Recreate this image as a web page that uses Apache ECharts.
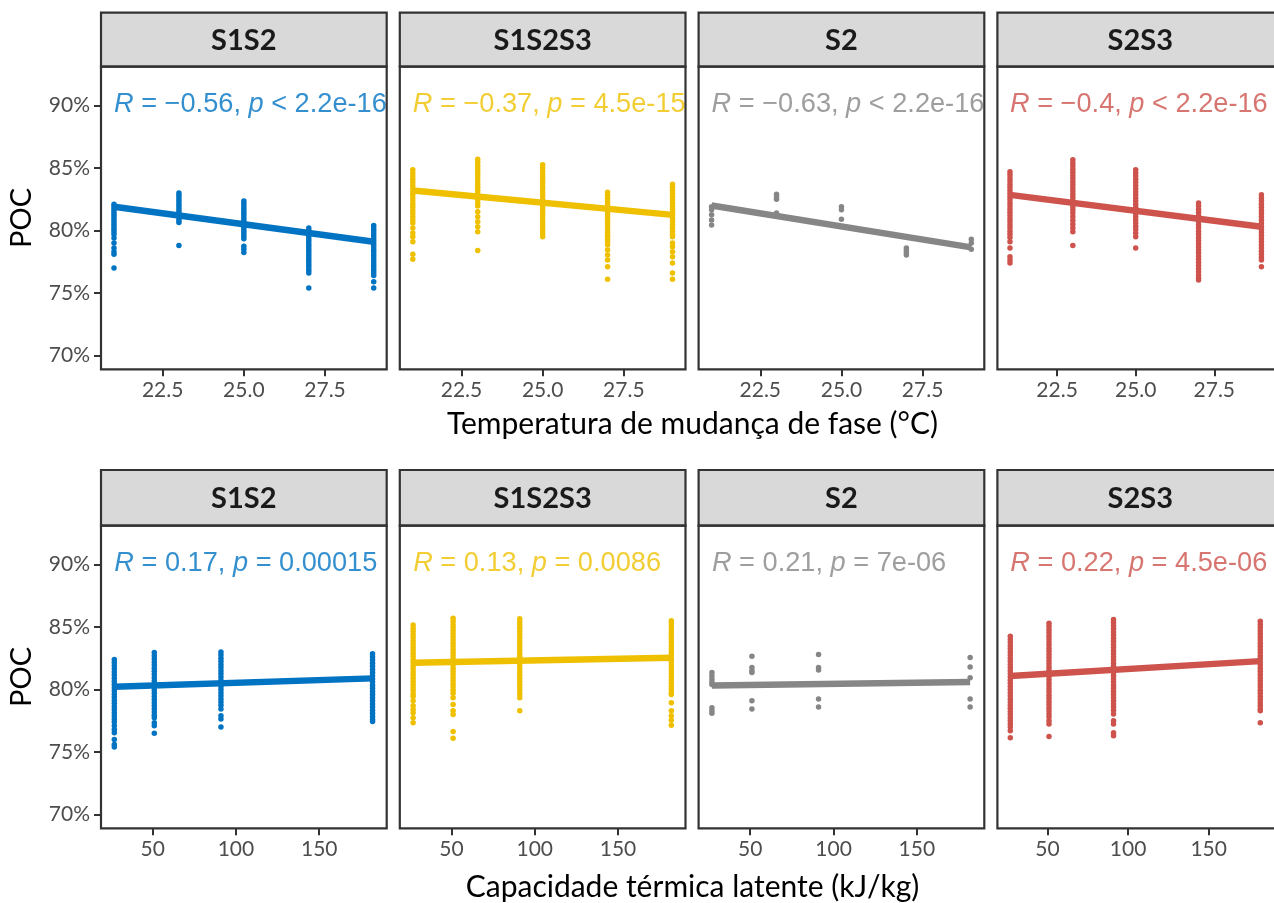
<!DOCTYPE html>
<html>
<head>
<meta charset="utf-8">
<script src="https://cdn.jsdelivr.net/npm/echarts@6/dist/echarts.min.js"></script>
<style>
  html, body { margin: 0; padding: 0; background: #ffffff; }
  #chart { width: 1274px; height: 903px; }
</style>
</head>
<body>
<div id="chart"></div>
<script>
// ---- facet groups and colours ----
const groups = ['S1S2', 'S1S2S3', 'S2', 'S2S3'];
const groupColors = ['#0073C2', '#EFC000', '#868686', '#CD534C'];

// ---- top row: POC (%) vs phase-change temperature (°C) ----
const tempLevels = [21, 23, 25, 27, 29];
const tempTicks = [22.5, 25, 27.5];
const temp_S1S2 = [
  [82.1,81.9,81.7,81.5,81.3,81.1,80.9,80.7,80.5,80.3,80.1,79.9,79.7,79.4,79.0,78.6,78.3,78.1,77.0],
  [83.0,82.8,82.6,82.4,82.2,82.0,81.8,81.6,81.4,81.2,81.0,80.8,80.65,78.8],
  [82.35,82.15,81.95,81.75,81.55,81.35,81.15,80.95,80.75,80.55,80.35,80.15,79.95,79.75,79.55,79.35,78.75,78.5,78.25],
  [80.2,80.0,79.8,79.6,79.4,79.2,79.0,78.8,78.6,78.4,78.2,78.0,77.8,77.6,77.4,77.2,77.0,76.8,76.6,75.4],
  [80.4,80.2,80.0,79.8,79.6,79.4,79.2,79.0,78.8,78.6,78.4,78.2,78.0,77.8,77.6,77.4,77.2,77.0,76.8,76.6,76.4,75.9,75.4]
];
const temp_S1S2S3 = [
  [84.85,84.6,84.35,84.1,83.85,83.6,83.35,83.1,82.85,82.6,82.35,82.1,81.85,81.6,81.35,81.1,80.85,80.6,80.2,79.8,79.5,79.1,78.1,77.7],
  [85.7,85.45,85.2,84.95,84.7,84.45,84.2,83.95,83.7,83.45,83.2,82.95,82.7,82.45,82.2,81.95,81.5,81.1,80.7,80.3,79.9,78.4],
  [85.25,85.0,84.75,84.5,84.25,84.0,83.75,83.5,83.25,83.0,82.75,82.5,82.25,82.0,81.75,81.5,81.25,81.0,80.75,80.5,80.25,80.0,79.75,79.5],
  [83.05,82.8,82.55,82.3,82.05,81.8,81.55,81.3,81.05,80.8,80.55,80.3,80.05,79.8,79.55,79.3,79.1,78.85,78.45,78.05,77.65,77.1,76.1],
  [83.7,83.45,83.2,82.95,82.7,82.45,82.2,81.95,81.7,81.45,81.2,80.95,80.7,80.45,80.2,79.95,79.7,79.5,79.0,78.7,78.3,77.9,77.4,76.6,76.1]
];
const temp_S2 = [
  [81.9,81.65,81.25,80.85,80.45],
  [82.9,82.7,82.5,81.4],
  [81.9,81.65,80.9],
  [78.6,78.4,78.2,78.05],
  [79.3,79.0,78.5]
];
const temp_S2S3 = [
  [84.7,84.45,84.2,83.95,83.7,83.45,83.2,82.95,82.7,82.45,82.2,81.95,81.7,81.45,81.2,80.95,80.7,80.45,80.2,79.95,79.7,79.45,79.1,78.6,77.9,77.65,77.4],
  [85.65,85.4,85.15,84.9,84.65,84.4,84.15,83.9,83.65,83.4,83.15,82.9,82.65,82.4,82.15,81.9,81.65,81.4,81.1,80.8,80.5,80.2,79.9,78.8],
  [84.85,84.6,84.35,84.1,83.85,83.6,83.35,83.1,82.85,82.6,82.35,82.1,81.85,81.6,81.35,81.1,80.85,80.6,80.35,80.1,79.8,79.5,78.6],
  [82.2,81.95,81.7,81.45,81.2,80.95,80.7,80.45,80.2,79.95,79.7,79.45,79.2,78.95,78.7,78.45,78.2,77.95,77.7,77.45,77.2,76.95,76.7,76.45,76.2,76.05],
  [82.85,82.6,82.35,82.1,81.85,81.6,81.35,81.1,80.85,80.6,80.35,80.1,79.85,79.6,79.35,79.1,78.85,78.6,78.35,78.1,77.85,77.65,77.1]
];
// linear fit at the lowest and highest temperature, per group
const tempFitStart = [81.9, 83.2, 82.0, 82.85];
const tempFitEnd = [79.1, 81.25, 78.65, 80.3];
const tempR = ['−0.56', '−0.37', '−0.63', '−0.4'];
const tempP = ['< 2.2e-16', '= 4.5e-15', '< 2.2e-16', '< 2.2e-16'];

// ---- bottom row: POC (%) vs latent heat capacity (kJ/kg) ----
const heatLevels = [27, 51, 91, 182];
const heatTicks = [50, 100, 150];
const heat_S1S2 = [
  [82.4,82.15,81.9,81.65,81.4,81.15,80.9,80.65,80.4,80.15,79.9,79.65,79.4,79.15,78.9,78.65,78.4,78.15,77.9,77.65,77.4,77.1,76.8,76.55,76.0,75.6,75.4],
  [82.95,82.7,82.45,82.2,81.95,81.7,81.45,81.2,80.95,80.7,80.45,80.2,79.95,79.7,79.45,79.2,78.95,78.7,78.45,78.2,77.95,77.75,77.35,77.1,76.5],
  [83.0,82.75,82.5,82.25,82.0,81.75,81.5,81.25,81.0,80.75,80.5,80.25,80.0,79.75,79.5,79.25,79.0,78.75,78.45,77.9,77.65,77.0],
  [82.85,82.6,82.35,82.1,81.85,81.6,81.35,81.1,80.85,80.6,80.35,80.1,79.85,79.6,79.35,79.1,78.85,78.6,78.35,78.1,77.85,77.6,77.45]
];
const heat_S1S2S3 = [
  [85.15,84.9,84.65,84.4,84.15,83.9,83.65,83.4,83.15,82.9,82.65,82.4,82.15,81.9,81.65,81.4,81.15,80.9,80.65,80.4,80.15,79.9,79.65,79.45,79.1,78.7,78.4,78.15,77.75,77.35],
  [85.7,85.45,85.2,84.95,84.7,84.45,84.2,83.95,83.7,83.45,83.2,82.95,82.7,82.45,82.2,81.95,81.7,81.45,81.2,80.95,80.7,80.45,80.2,79.95,79.7,79.35,78.8,78.3,78.0,76.65,76.1],
  [85.65,85.4,85.15,84.9,84.65,84.4,84.15,83.9,83.65,83.4,83.15,82.9,82.65,82.4,82.15,81.9,81.65,81.4,81.15,80.9,80.65,80.4,80.15,79.9,79.65,79.35,78.3],
  [85.5,85.25,85.0,84.75,84.5,84.25,84.0,83.75,83.5,83.25,83.0,82.75,82.5,82.25,82.0,81.75,81.5,81.25,81.0,80.75,80.5,80.25,80.0,79.75,79.6,78.95,78.3,77.9,77.55,77.15]
];
const heat_S2 = [
  [81.35,81.1,80.85,80.6,80.4,78.55,78.3,78.1],
  [82.65,81.75,81.5,81.35,79.1,78.45],
  [82.8,81.75,81.55,79.25,78.6],
  [82.55,81.8,80.95,79.25,78.6]
];
const heat_S2S3 = [
  [84.25,84.0,83.75,83.5,83.25,83.0,82.75,82.5,82.25,82.0,81.75,81.5,81.25,81.0,80.75,80.5,80.25,80.0,79.75,79.5,79.25,79.0,78.75,78.5,78.25,78.0,77.75,77.5,77.25,77.0,76.7,76.15],
  [85.3,85.05,84.8,84.55,84.3,84.05,83.8,83.55,83.3,83.05,82.8,82.55,82.3,82.05,81.8,81.55,81.3,81.05,80.8,80.55,80.3,80.05,79.8,79.55,79.3,79.05,78.8,78.55,78.3,78.05,77.8,77.5,77.25,76.25],
  [85.6,85.35,85.1,84.85,84.6,84.35,84.1,83.85,83.6,83.35,83.1,82.85,82.6,82.35,82.1,81.85,81.6,81.35,81.1,80.85,80.6,80.35,80.1,79.85,79.6,79.35,79.1,78.85,78.6,78.35,78.05,77.5,77.25,76.55,76.3],
  [85.45,85.2,84.95,84.7,84.45,84.2,83.95,83.7,83.45,83.2,82.95,82.7,82.45,82.2,81.95,81.7,81.45,81.2,80.95,80.7,80.45,80.2,79.95,79.7,79.45,79.2,78.95,78.7,78.45,78.3,77.35]
];
const heatFitStart = [80.22, 82.14, 80.33, 81.08];
const heatFitEnd = [80.89, 82.53, 80.6, 82.27];
const heatR = ['0.17', '0.13', '0.21', '0.22'];
const heatP = ['= 0.00015', '= 0.0086', '= 7e-06', '= 4.5e-06'];

const yTicks = [70, 75, 80, 85, 90];
const labelY = 90;

// ---- layout ----
const PANEL_L = 101, PANEL_STEP = 298.8, PANEL_W = 285.7;
const rows = [
  { stripTop: 12.7, top: 66.7, bottom: 369.3, xMin: 20.6, xMax: 29.4, levels: tempLevels, ticks: tempTicks,
    cols: [temp_S1S2, temp_S1S2S3, temp_S2, temp_S2S3], fitA: tempFitStart, fitB: tempFitEnd, R: tempR, P: tempP,
    fmt: v => v.toFixed(1), title: 'Temperatura de mudança de fase (°C)', titleY: 424 },
  { stripTop: 470, top: 525.7, bottom: 828.3, xMin: 19.0, xMax: 190.5, levels: heatLevels, ticks: heatTicks,
    cols: [heat_S1S2, heat_S1S2S3, heat_S2, heat_S2S3], fitA: heatFitStart, fitB: heatFitEnd, R: heatR, P: heatP,
    fmt: v => String(v), title: 'Capacidade térmica latente (kJ/kg)', titleY: 887 }
];

const UI_FONT = 'Lato, "Open Sans", sans-serif';
const CORR_FONT = '"Liberation Sans", Arial, sans-serif';
const grid = [], xAxis = [], yAxis = [], series = [], graphics = [];

rows.forEach((row, r) => {
  groups.forEach((g, c) => {
    const idx = r * 4 + c;
    const left = PANEL_L + c * PANEL_STEP;
    const h = row.bottom - row.top;
    grid.push({ left: left, top: row.top, width: PANEL_W, height: h, containLabel: false });
    xAxis.push({
      type: 'value', gridIndex: idx, min: row.xMin, max: row.xMax,
      axisLine: { show: false },
      splitLine: { show: false },
      axisTick: { show: true, length: 7, lineStyle: { color: '#333333', width: 2 }, customValues: row.ticks },
      axisLabel: { show: true, customValues: row.ticks, formatter: row.fmt, color: '#4D4D4D',
        fontFamily: UI_FONT, fontSize: 21, margin: 10 }
    });
    yAxis.push({
      type: 'value', gridIndex: idx, min: 68.9, max: 93.1,
      axisLine: { show: false },
      splitLine: { show: false },
      axisTick: { show: c === 0, length: 7, lineStyle: { color: '#333333', width: 2 }, customValues: yTicks },
      axisLabel: { show: c === 0, customValues: yTicks, formatter: v => v + '%', color: '#4D4D4D',
        fontFamily: UI_FONT, fontSize: 21, margin: 11 }
    });

    // points
    const pts = [];
    row.levels.forEach((x, k) => { row.cols[c][k].forEach(y => pts.push([x, y])); });
    series.push({
      type: 'scatter', xAxisIndex: idx, yAxisIndex: idx, data: pts,
      symbol: 'circle', symbolSize: 5.5, itemStyle: { color: groupColors[c], opacity: 1 },
      silent: true, z: 2
    });
    // regression line
    const xa = row.levels[0], xb = row.levels[row.levels.length - 1];
    series.push({
      type: 'line', xAxisIndex: idx, yAxisIndex: idx,
      data: [[xa, row.fitA[c]], [xb, row.fitB[c]]],
      symbol: 'none', lineStyle: { color: groupColors[c], width: 6.5, cap: 'butt' },
      silent: true, z: 3
    });
    // correlation label anchored at (first level, 90%)
    series.push({
      type: 'scatter', xAxisIndex: idx, yAxisIndex: idx,
      data: [[xa, labelY]], symbolSize: 0, silent: true, z: 4,
      label: {
        show: true, position: 'right', distance: 0, offset: [0, -1],
        formatter: '{i|R} = ' + row.R[c] + ', {i|p} ' + row.P[c],
        color: groupColors[c], fontFamily: CORR_FONT, fontSize: 27.2,
        textBorderWidth: 0,
        rich: { i: { fontStyle: 'italic', color: groupColors[c], fontFamily: CORR_FONT, fontSize: 27.2, textBorderWidth: 0 } }
      }
    });

    // white gutter to the right of each panel hides overflowing labels
    graphics.push({
      type: 'rect', z: 50, silent: true,
      shape: { x: left + PANEL_W + 1, y: row.top - 2, width: PANEL_STEP - PANEL_W - 2, height: h + 4 },
      style: { fill: '#ffffff' }
    });
    // strip
    graphics.push({
      type: 'rect', z: 60, silent: true,
      shape: { x: left, y: row.stripTop, width: PANEL_W, height: row.top - row.stripTop },
      style: { fill: '#D9D9D9', stroke: '#333333', lineWidth: 2.2 }
    });
    graphics.push({
      type: 'text', z: 61, silent: true,
      x: left + PANEL_W / 2, y: (row.stripTop + row.top) / 2 + 1,
      style: { text: g, fill: '#1A1A1A', font: 'bold 29px ' + UI_FONT, textAlign: 'center', textVerticalAlign: 'middle' }
    });
    // panel border
    graphics.push({
      type: 'rect', z: 60, silent: true,
      shape: { x: left, y: row.top, width: PANEL_W, height: h },
      style: { fill: 'none', stroke: '#333333', lineWidth: 2.2 }
    });
  });

  // axis titles
  graphics.push({
    type: 'text', z: 61, silent: true,
    x: 22, y: (row.top + row.bottom) / 2, rotation: Math.PI / 2,
    style: { text: 'POC', fill: '#000000', font: '29px ' + UI_FONT, textAlign: 'center', textVerticalAlign: 'middle' }
  });
  graphics.push({
    type: 'text', z: 61, silent: true,
    x: 692.5, y: row.titleY,
    style: { text: row.title, fill: '#000000', font: '30px ' + UI_FONT, textAlign: 'center', textVerticalAlign: 'middle' }
  });
});

const chart = echarts.init(document.getElementById('chart'), null, { renderer: 'canvas' });
chart.setOption({
  backgroundColor: '#ffffff',
  animation: false,
  grid: grid,
  xAxis: xAxis,
  yAxis: yAxis,
  series: series,
  graphic: { elements: graphics }
});
</script>
</body>
</html>
